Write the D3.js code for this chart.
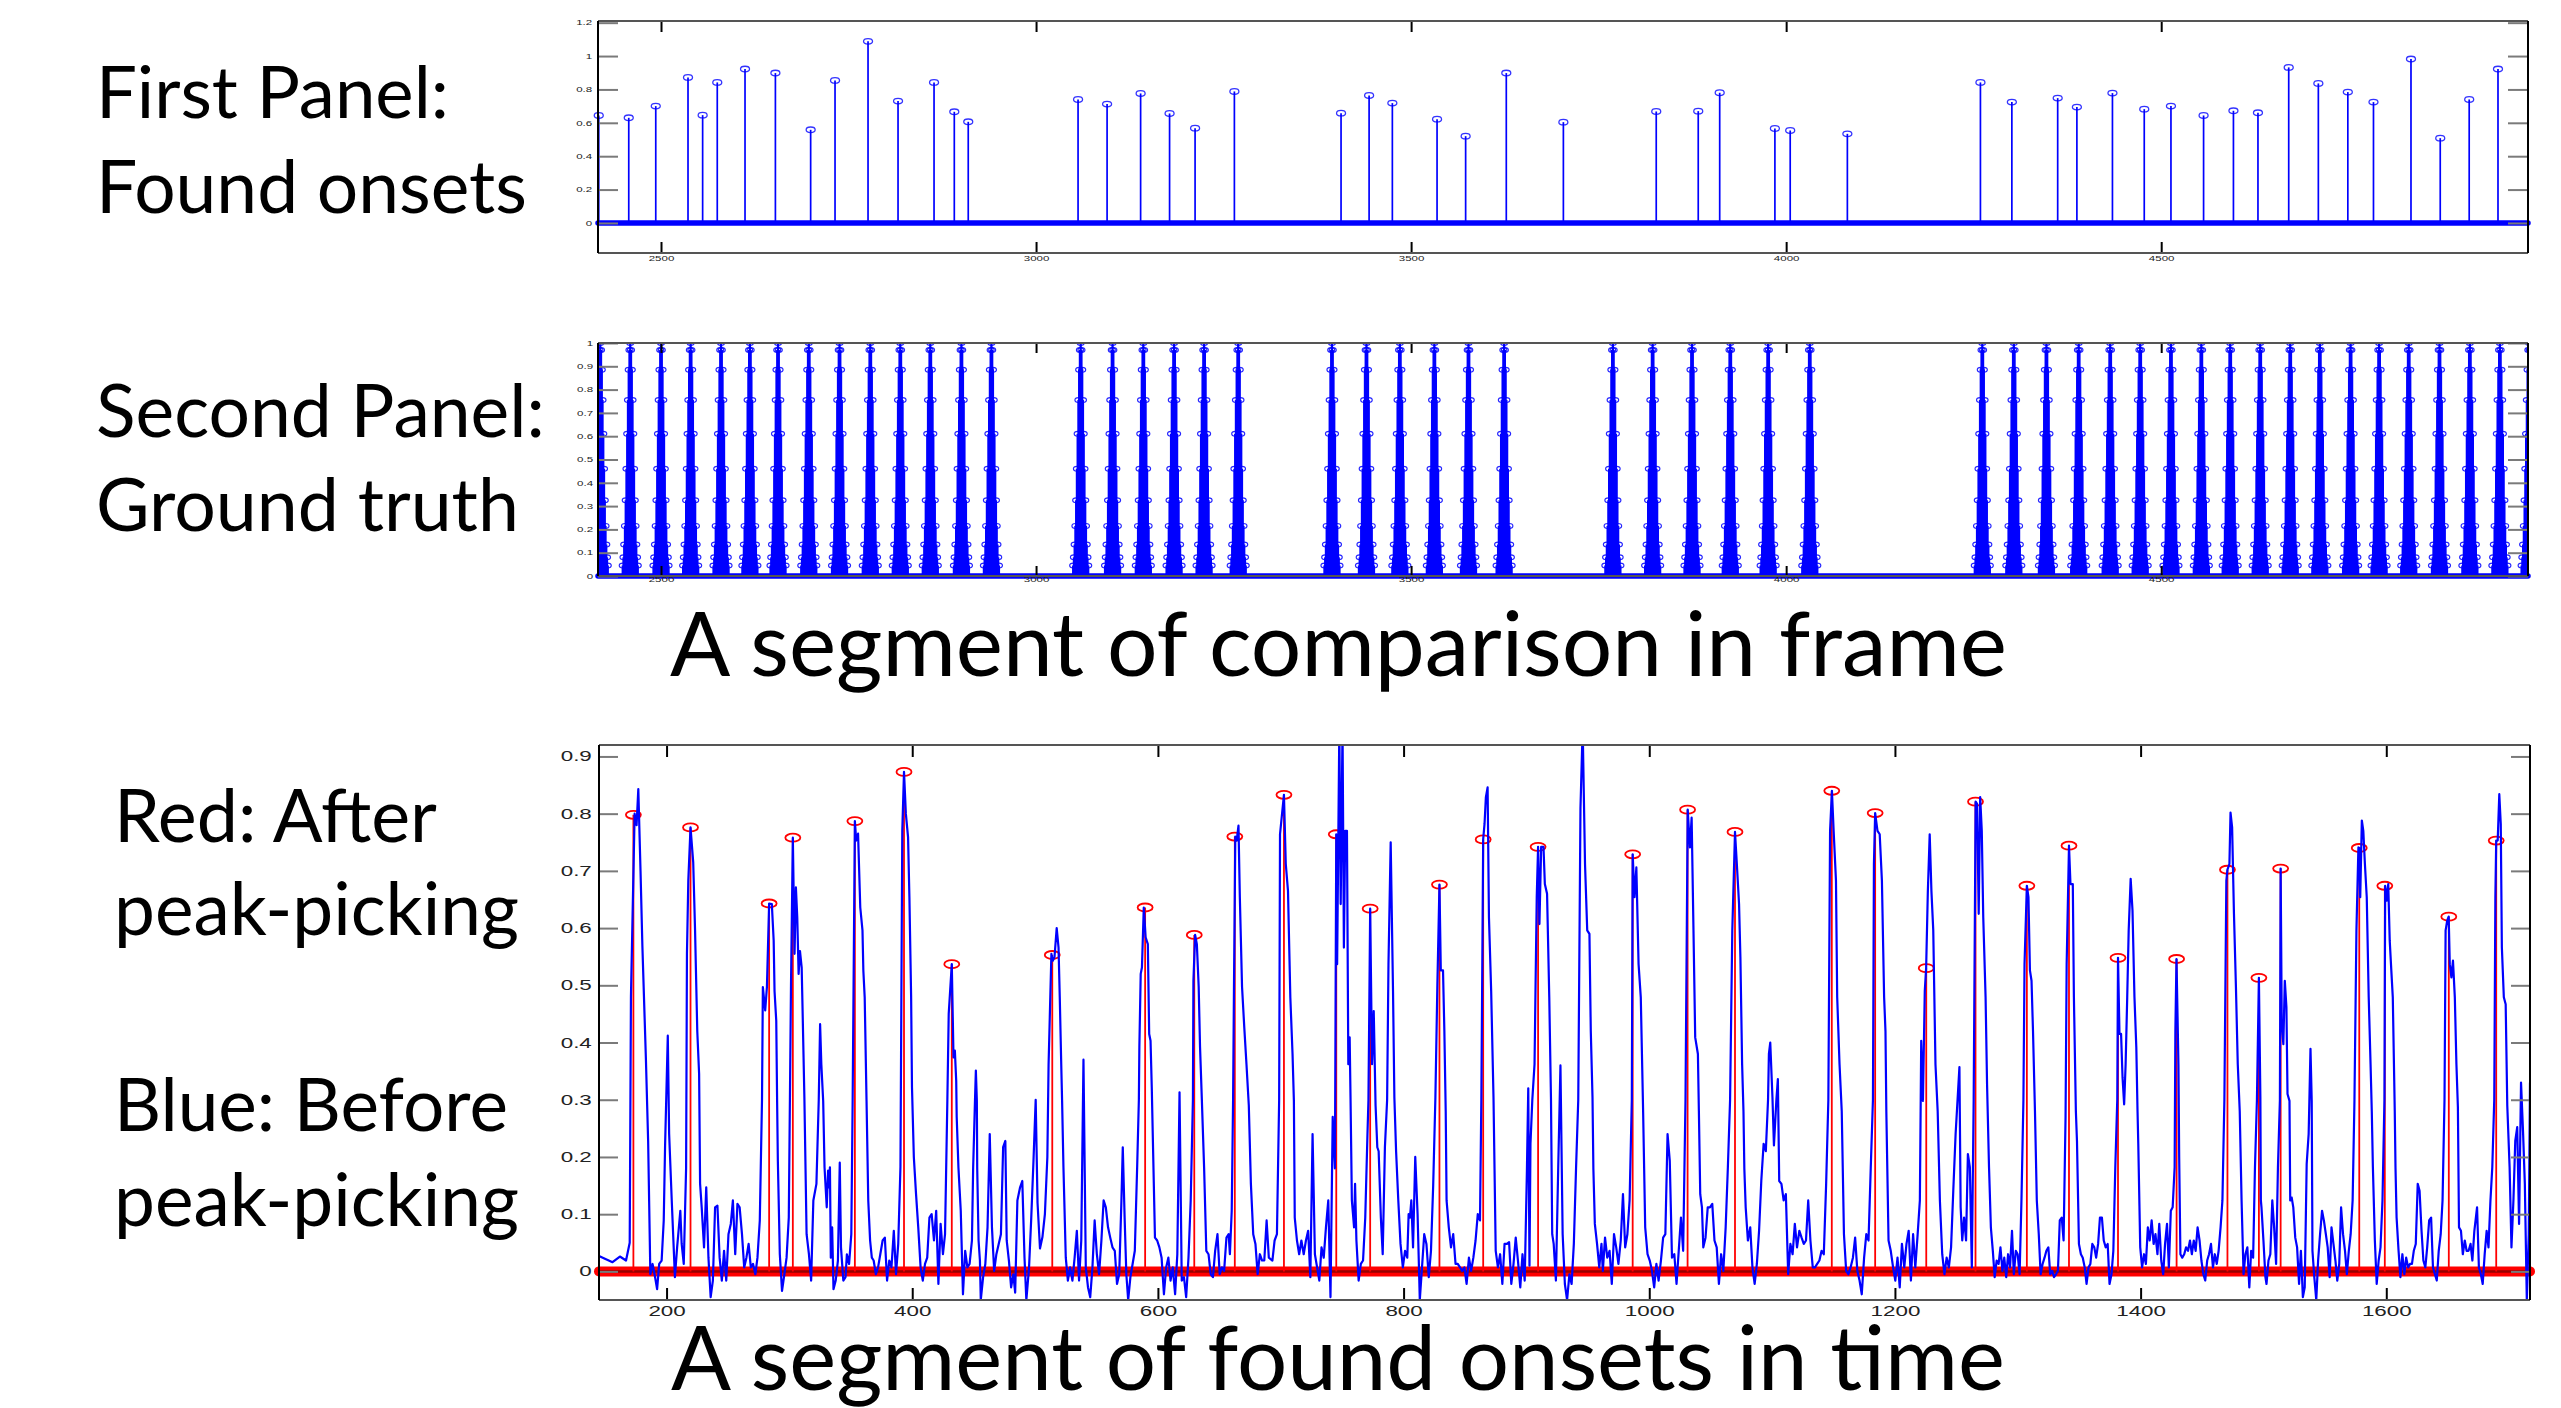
<!DOCTYPE html>
<html>
<head>
<meta charset="utf-8">
<script src="https://cdn.jsdelivr.net/npm/d3@7"></script>
<style>
  body { margin: 0; background: #fff; }
  svg { display: block; background: #fff; }
  .side { font-family: Lato, 'Open Sans', sans-serif; fill: #000; }
  .ax text { font-family: 'Liberation Sans', Arial, sans-serif; fill: #222; }
</style>
</head>
<body>
<svg id="chart" width="2561" height="1408"></svg>
<script>
/* eslint-disable */
// ---- data ----
// panel 1: found onsets (frame, strength)
const foundFrames = [2417, 2457, 2493, 2536, 2555.5, 2575, 2612, 2652.5, 2699.5, 2732, 2776, 2816, 2864, 2891, 2909.6,
  3056, 3094.7, 3139.4, 3178, 3212, 3264.4, 3406.6, 3444, 3475, 3534.6, 3572.7, 3626.9, 3703,
  3826.8, 3882.8, 3911.4, 3985, 4005.4, 4081.6,
  4259, 4300.9, 4362, 4387.6, 4435, 4477.4, 4513, 4556.5, 4596.3, 4629, 4670, 4709.5, 4748.8, 4783, 4833, 4872, 4910.6, 4949];
const foundValues = [0.644, 0.63, 0.70, 0.872, 0.646, 0.842, 0.922, 0.898, 0.558, 0.854, 1.088, 0.73, 0.842, 0.666, 0.606,
  0.74, 0.712, 0.776, 0.656, 0.568, 0.788, 0.658, 0.764, 0.718, 0.622, 0.52, 0.898, 0.604,
  0.668, 0.67, 0.78, 0.566, 0.554, 0.534,
  0.842, 0.724, 0.748, 0.694, 0.778, 0.682, 0.70, 0.644, 0.672, 0.66, 0.932, 0.836, 0.784, 0.724, 0.982, 0.508, 0.74, 0.922];

// panel 2: ground truth onset frames and the stem levels seen around each onset (offset 0..10)
const truthFrames = [2419, 2459, 2500, 2539.5, 2580, 2618.5, 2656, 2697, 2738, 2779, 2819, 2859, 2900.5, 2940.5,
  3059.5, 3102, 3143, 3184, 3224, 3269.5, 3394.5, 3440.5, 3485, 3531, 3576.5, 3624,
  3769, 3822, 3874.5, 3925.5, 3976, 4031.5,
  4261.5, 4303.5, 4347, 4390, 4432, 4472, 4513, 4553.5, 4592, 4632, 4672, 4711.5, 4752.5, 4790.5, 4830, 4871, 4911.5, 4951.5, 4990.5];
const truthLevels = [1, 0.97, 0.885, 0.755, 0.61, 0.46, 0.325, 0.215, 0.135, 0.08, 0.045];

// panel 3: peaks kept after peak-picking
const pickFrames = [173, 219.5, 283.5, 302.8, 353.3, 393.3, 432.2, 514, 589.6, 629.6, 662.6, 702.6, 745.2, 772.8, 829.2,
  864.8, 909.5, 986.5, 1031.2, 1069.8, 1148.6, 1183.9, 1225.5, 1265.6, 1307.4, 1341.7, 1381.6, 1429.3, 1470.7,
  1496.3, 1514, 1578, 1598.8, 1650.9, 1689.5];
const pickValues = [0.798, 0.776, 0.643, 0.758, 0.787, 0.873, 0.537, 0.553, 0.636, 0.588, 0.76, 0.833, 0.764, 0.634, 0.676,
  0.755, 0.742, 0.729, 0.807, 0.768, 0.84, 0.801, 0.53, 0.821, 0.674, 0.744, 0.548, 0.546, 0.702,
  0.513, 0.704, 0.74, 0.674, 0.62, 0.753];

// panel 3: detection function before peak-picking [frame, value]
const odfCurve = [
  [145,.027],[156,.016],[162,.026],[167,.019],[170,.05],[171,.48],[174,.80],[175.6,.78],[177,.843],[178.8,.70],[180.3,.57],[183.2,.37],
  [185,.228],[186.8,-.005],[188.6,.013],[190.5,-.008],[192.3,-.031],[194,.013],[196,.019],[197.7,.089],[198.8,.22],[201,.412],[202.1,.24],
  [204.3,.12],[206.8,-.01],[208.6,.042],[211.2,.106],[212.3,.048],[214,.013],[215.9,.18],[216.6,.555],[217.7,.683],[219.5,.776],[221.7,.715],
  [223.2,.596],[225,.42],[226.5,.345],[227.3,.153],[228.6,.112],[230.5,.042],[232.3,.147],[234.1,.024],[235.9,-.045],[237.7,-.016],[239.5,.112],
  [241.4,.115],[243.2,.024],[245,-.016],[246.8,.036],[248.6,-.016],[250.4,.065],[252.3,.083],[254,.124],[255.9,.03],[257.7,.118],[259.5,.112],
  [261.4,.065],[263.2,.007],[265,.024],[266.8,.048],[268.6,.007],[270.4,.013],[272.3,-.005],[274,.024],[275.9,.089],[277.7,.3],[278.4,.497],
  [280.3,.456],[281.7,.497],[283.5,.643],[285.7,.642],[287.2,.578],[287.9,.49],[289.3,.438],[290,.298],[290.6,.193],[292.2,.03],[294,-.034],
  [295.9,-.005],[297.7,.024],[299.5,.094],[301.3,.5],[302.8,.758],[304.2,.555],[305.3,.671],[306.4,.619],[307.5,.52],[308.6,.56],[310,.531],
  [310.8,.45],[312.2,.304],[314,.065],[315.9,.03],[317.7,-.016],[319.5,.124],[322,.153],[323.9,.3],[325,.432],[326,.362],[327.5,.298],
  [328.6,.182],[330.4,.112],[331.5,.176],[332.2,.147],[333,.182],[333.7,.024],[334.8,.077],[335.9,-.031],[337.7,-.016],[339.5,.019],[341,.19],
  [342,.042],[343.9,-.016],[345.7,-.01],[346.8,.03],[348.6,.013],[350.4,.065],[351.5,.3],[353.3,.787],[354.4,.753],[355.9,.765],[357.7,.636],
  [359.5,.596],[360.2,.526],[361.3,.479],[362.8,.298],[364.2,.124],[365.7,.054],[367.1,.024],[368.6,.019],[370.4,-.005],[372.2,.007],[374,.03],
  [375.9,.054],[377.7,.059],[379.5,-.016],[381.3,.019],[383.1,.007],[385,.071],[386.8,-.005],[388.6,.048],[390.4,.182],[391.9,.77],[393.3,.873],
  [394.8,.8],[396.6,.759],[397.7,.654],[399.1,.479],[399.8,.322],[401.3,.2],[403.1,.135],[404.9,.077],[406.8,.007],[408.6,-.016],[410.4,.013],
  [412.2,.024],[414,.094],[415.8,.1],[417.7,.054],[419.5,.106],[421.3,-.022],[423.1,.083],[425,.03],[426.7,.065],[428.6,.3],[429.7,.45],
  [432.2,.537],[433.6,.374],[434.7,.386],[435.8,.333],[436.2,.27],[437.6,.182],[439.5,.106],[441.3,-.04],[443.1,.036],[444.9,.007],[446.7,.013],
  [448.6,.054],[449.6,.182],[451.1,.3],[451.8,.351],[452.6,.298],[452.9,.18],[454,.054],[455.1,.019],[455.8,-.05],[457.7,-.01],[459.5,.013],
  [461.3,.077],[463.1,.24],[464.9,.077],[466.7,.001],[468.5,.03],[470.4,.048],[472.2,.065],[474,.217],[475.8,.228],[476.9,.054],[478.7,.019],
  [480.5,-.028],[482.3,-.005],[483.8,-.037],[485.6,.124],[487.8,.147],[489.6,.158],[491.4,.024],[492.9,-.05],[495.1,.007],[496.9,.094],
  [498.7,.193],[500.5,.30],[502,.12],[504,.04],[506,.06],[508,.1],[510,.2],[511,.362],[513.3,.555],[514.4,.543],[515.8,.549],[517.6,.6],
  [519.1,.566],[520.1,.479],[521.3,.362],[522,.298],[523.1,.182],[525,.024],[526.7,-.016],[528.5,.007],[530.4,-.016],[532.2,.024],[534,.071],
  [535.8,-.016],[537.6,.054],[539.4,.37],[541.3,.007],[543.1,-.028],[544.9,-.045],[546.7,.007],[548.5,.089],[550.3,.03],[552.1,-.005],[554,.054],
  [555.8,.124],[557.6,.112],[559.4,.077],[561.2,.059],[563,.042],[564.9,.036],[566.7,-.022],[568.5,-.005],[570.3,.124],[571.4,.217],[572.9,.094],
  [574.3,-.005],[575.8,-.05],[577.6,-.01],[579.4,.013],[581.2,.036],[583.1,.182],[584.5,.3],[584.9,.392],[586,.52],[587,.531],[588.5,.636],
  [590,.584],[591.8,.572],[592.9,.415],[594,.403],[595,.322],[595.8,.24],[597.6,.059],[599.4,.054],[601.2,.042],[603,.024],[604.9,-.04],
  [606.7,.007],[608.5,.024],[610.3,-.016],[612.1,.007],[614,-.04],[615.8,.03],[617.6,.313],[619.4,-.016],[621.2,-.01],[623,-.045],[624.9,.024],
  [626.7,.124],[628.5,.3],[628.9,.508],[630.3,.588],[631.7,.572],[633.2,.497],[634.3,.392],[635.8,.298],[637.6,.182],[639.4,.036],[641.2,.03],
  [643,-.005],[644.8,-.01],[646.6,.036],[648.5,.065],[650.3,-.005],[652.1,.007],[653.9,.001],[655.8,.059],[657.6,.065],[658.6,.03],[660.1,.106],
  [661.2,.3],[661.9,.49],[663,.76],[664.1,.753],[665.6,.779],[666.7,.654],[668.5,.497],[670.3,.427],[672.1,.362],[674,.29],[675.7,.153],
  [677.6,.065],[679.4,.048],[681.2,-.005],[683,.03],[684.8,.019],[686.6,.019],[688.5,.089],[690.3,.024],[693.2,.019],[695,.054],[696.9,.065],
  [698.7,.3],[699.4,.764],[702.6,.833],[704.1,.712],[705.9,.665],[707.8,.479],[709.6,.38],[710.7,.298],[711.4,.094],[713.2,.054],[715,.03],
  [716.8,.054],[718.7,.03],[720.5,.054],[722.3,.071],[724.1,-.01],[725.9,.24],[727.8,.03],[729.6,.007],[731.4,-.016],[733.2,.042],[735,.024],
  [736.8,.077],[738.7,.124],[740.5,-.045],[742.3,.27],[744.1,.18],[745.2,.764],[745.9,.537],[747.7,.95],[748.8,.642],[750.3,.95],[751.4,.566],
  [752.5,.77],[753.9,.77],[755,.362],[756.1,.409],[756.8,.304],[757.9,.124],[759.7,.077],[760.5,.153],[761.6,.054],[763.4,-.016],[765.2,.013],
  [767,.019],[768.8,.094],[770.6,.24],[771.4,.3],[772.8,.634],[774.3,.362],[775.7,.455],[777.2,.29],[778.6,.217],[779.7,.21],[781.5,.094],
  [783,.03],[784.8,.217],[786.6,.3],[787.7,.537],[789.5,.75],[791.4,.49],[792.5,.304],[793.9,.21],[795.7,.124],[797.5,.048],[799.4,.007],
  [801.2,.036],[803,.024],[804.1,.1],[805.2,.094],[806.3,.124],[807.7,.042],[809.5,.2],[811.4,.1],[813.2,-.05],[815,.007],[816.8,.065],
  [818.6,.048],[820.5,-.01],[822.3,.036],[824.1,.15],[825.9,.304],[827.5,.5],[829.2,.676],[830.3,.526],[832.1,.526],[833.2,.42],[834.3,.28],
  [835,.124],[836.8,.077],[838.6,.042],[840.4,.065],[842.3,.013],[844.1,.013],[845.9,.007],[847.7,.001],[849.5,.007],[851.3,-.022],[853.2,.024],
  [855,.001],[856.8,.024],[858.6,.054],[860.4,.1],[862.2,.089],[863.3,.3],[864.8,.755],[865.9,.782],[867,.829],[868.4,.846],[869.5,.619],
  [871.3,.49],[873.2,.304],[875,.036],[876.8,.007],[878.6,.03],[880.4,-.022],[882.2,.048],[884.1,.048],[885.9,.051],[887.7,-.022],[889.5,.013],
  [891.3,.059],[893.1,.019],[895,-.028],[896.8,.03],[898.6,-.016],[900.4,.176],[901.5,.32],[902.5,.01],[903.3,.223],[904.8,.3],[906.6,.362],
  [908.4,.654],[909.5,.742],[910.6,.607],[912,.742],[913.9,.742],[915,.677],[916.8,.66],[918.6,.479],[920,.3],[921,.065],[922.2,.048],
  [924,-.016],[925.9,.182],[927.7,.36],[929.5,.065],[931.3,-.022],[933.1,-.05],[935,-.005],[936.8,-.022],[938.6,.048],[940.4,.18],[942.2,.3],
  [944,.81],[945.8,.95],[947.7,.712],[949.5,.596],[951.3,.59],[952.4,.42],[953.8,.304],[954.5,.18],[955.7,.083],[957.5,.048],[959.3,.007],
  [961.1,.048],[962.2,.001],[964,.059],[965.8,.024],[967.7,.036],[969.5,-.022],[971.3,.065],[973.1,.042],[974.9,.013],[976.8,.054],[978.6,.135],
  [980.4,.042],[982.2,.065],[984,.124],[985.8,.3],[986.5,.729],[988,.654],[989.5,.706],[991.3,.537],[993.1,.479],[995,.28],[996.7,.077],
  [998.6,.03],[1000.4,.019],[1002.2,.001],[1004,-.028],[1005.8,.013],[1007.6,-.016],[1009.5,.019],[1011.3,.059],[1013.1,.065],[1014.9,.24],
  [1016.7,.193],[1018.5,.024],[1020.4,.03],[1022.2,-.022],[1024,.036],[1025.8,.094],[1027.6,.036],[1029.5,.3],[1031.3,.807],[1033.1,.741],
  [1034.5,.793],[1036,.596],[1037.4,.409],[1039.6,.38],[1040.4,.28],[1041.5,.135],[1042.9,.112],[1044,.042],[1045.8,.059],[1047.6,.112],
  [1049.4,.112],[1051.3,.118],[1053.1,.054],[1054.9,.042],[1056.7,-.022],[1058.5,.03],[1060.3,.001],[1062.2,.077],[1064,.182],[1065.8,.3],
  [1067.6,.596],[1069.8,.768],[1071.3,.712],[1073.1,.642],[1074.2,.549],[1075.6,.362],[1076.7,.28],[1077.4,.18],[1078.5,.112],[1080.3,.054],
  [1082.2,.077],[1084,.007],[1085.8,-.022],[1087.6,.013],[1089.4,.071],[1091.2,.158],[1093.1,.223],[1094.9,.21],[1096.7,.3],[1097.4,.38],
  [1098.5,.4],[1100.3,.304],[1101.5,.22],[1103.5,.3],[1104.7,.336],[1105.8,.158],[1107.6,.153],[1109.4,.124],[1111.2,.135],[1113.1,-.005],
  [1114.9,.048],[1116.7,.03],[1118.5,.083],[1120.3,.042],[1122.2,.071],[1124,.059],[1125.8,.048],[1127.6,.054],[1129.4,.124],[1131.2,.054],
  [1133.1,.007],[1134.9,.007],[1136.7,.013],[1138.5,.019],[1140.3,.036],[1142.1,.03],[1144,.153],[1145.8,.3],[1147.2,.77],[1148.7,.84],
  [1150.1,.77],[1152,.683],[1153,.479],[1154.9,.362],[1156.7,.28],[1158.5,.065],[1160.3,.001],[1162.1,-.005],[1163.9,.007],[1165.8,.024],
  [1167.6,.059],[1169.4,.001],[1171.2,-.016],[1173,-.04],[1174.9,.024],[1176.7,.065],[1178.5,.054],[1180.3,.18],[1182.1,.3],[1182.9,.712],
  [1183.9,.801],[1185.8,.77],[1187.6,.764],[1189.4,.683],[1191.2,.479],[1192.3,.42],[1193,.28],[1194.8,.054],[1196.6,.036],[1198.5,.007],
  [1200.3,-.016],[1202.1,.024],[1203.9,-.028],[1205.7,.048],[1207.6,.007],[1209.4,.048],[1211.2,.071],[1213,-.016],[1214.8,.065],[1216.6,.007],
  [1218.5,.065],[1220.3,.124],[1221.4,.403],[1222.8,.298],[1224.3,.49],[1225.4,.53],[1226.8,.665],[1228.3,.764],[1229.7,.665],[1231.2,.596],
  [1233,.362],[1234.8,.28],[1236.6,.124],[1238.5,.03],[1240.3,-.005],[1242.1,.024],[1243.9,.007],[1245.7,.042],[1247.5,.141],[1249.4,.24],
  [1252.5,.357],[1253.5,.112],[1254.8,.054],[1256.3,.094],[1257.9,.054],[1259.4,.205],[1261,.182],[1262.6,.007],[1264.1,.3],[1265.7,.821],
  [1266.9,.817],[1268.2,.625],[1269.4,.829],[1270.7,.77],[1271.9,.619],[1273.8,.479],[1275,.327],[1276.6,.182],[1278.1,.077],[1279.7,.036],
  [1281.2,-.01],[1282.8,.019],[1284.4,.013],[1285.9,.042],[1287.5,.001],[1289,.024],[1290.6,-.01],[1292.1,.03],[1293.7,.007],[1295.3,.071],
  [1296.8,-.005],[1298.4,.036],[1299.9,.03],[1301.5,-.005],[1303,.124],[1304.6,.3],[1305.5,.537],[1307.4,.674],[1308.7,.654],[1309.9,.526],
  [1311.2,.508],[1312.4,.42],[1314,.28],[1315.5,.124],[1317.1,.065],[1318.6,-.005],[1320.2,.013],[1321.8,.024],[1323.3,.036],[1324.9,.042],
  [1326.4,-.005],[1328,.001],[1329.5,-.01],[1331.1,-.005],[1332.7,.001],[1334.2,.089],[1335.8,.094],[1337.3,.054],[1338.9,.27],[1339.8,.537],
  [1341.7,.744],[1342.9,.677],[1344.8,.677],[1345.7,.479],[1347.3,.28],[1348.2,.228],[1349.8,.048],[1351.4,.03],[1352.9,.024],[1354.5,.007],
  [1356,-.022],[1357.6,.007],[1359.1,.013],[1360.7,.048],[1362.3,.042],[1363.8,.024],[1365.4,.048],[1366.9,.094],[1368.5,.094],[1370,.054],
  [1371.6,.042],[1373.2,.048],[1374.7,-.022],[1376.3,-.005],[1377.8,.036],[1379.4,.182],[1381,.3],[1381.6,.548],[1382.8,.415],[1384.1,.415],
  [1385.3,.339],[1386.6,.292],[1387.8,.362],[1389.1,.479],[1390.3,.596],[1391.9,.686],[1393.4,.631],[1395,.479],[1396.5,.392],[1397.5,.28],
  [1398.1,.223],[1399.7,.042],[1401.2,.007],[1402.8,.03],[1404.3,.013],[1405.9,.077],[1407.4,.054],[1409,.089],[1410.6,.048],[1412.1,.065],
  [1413.7,.03],[1415.2,.083],[1416.8,.019],[1418.4,-.005],[1419.9,.048],[1421.5,.083],[1423,.007],[1424.6,.106],[1426.1,.112],[1427.7,.182],
  [1428.3,.42],[1429.2,.546],[1430.8,.362],[1431.4,.2],[1432.4,.03],[1433.9,.024],[1435.5,.03],[1437,.042],[1438.6,.036],[1440.2,.054],
  [1441.7,.03],[1443.3,.054],[1444.8,.036],[1446.4,.077],[1448,.054],[1449.5,.019],[1451.1,-.005],[1452.6,-.016],[1454.2,.019],[1455.7,.03],
  [1457.3,.048],[1458.9,.007],[1460.4,.03],[1462,.013],[1463.5,.036],[1465.1,.077],[1466.6,.124],[1468.2,.3],[1469.8,.683],[1470.7,.702],
  [1472.3,.712],[1473.2,.802],[1474.5,.776],[1476,.625],[1477.6,.497],[1479.1,.362],[1480.7,.28],[1482.2,.124],[1483.8,-.005],[1485.3,.03],
  [1486.9,.042],[1488.5,-.028],[1490,.036],[1491.6,.024],[1493.1,.182],[1494.7,.3],[1496.3,.513],[1497.5,.304],[1497.9,.124],[1498.4,.112],
  [1500,.054],[1501.6,-.01],[1502.5,-.022],[1504.1,.019],[1505.6,.03],[1507.2,.124],[1508.7,.077],[1510.3,.013],[1511.8,.182],[1513.4,.3],
  [1514,.704],[1514.9,.432],[1516.2,.397],[1517.4,.508],[1518.7,.462],[1519.6,.31],[1521.2,.298],[1521.8,.124],[1523,.129],[1524.3,.112],
  [1525.9,.059],[1527.4,.042],[1529,-.022],[1530.5,.036],[1532.1,-.045],[1533.6,-.028],[1535.2,.188],[1536.8,.24],[1538.3,.389],[1539.3,.298],
  [1539.9,.036],[1541.4,-.01],[1543,-.05],[1544.5,.019],[1546.1,.065],[1547.7,.106],[1549.2,.089],[1550.8,.065],[1552.3,.042],[1553.9,-.01],
  [1555.4,.077],[1557,.048],[1558.6,.019],[1560.1,-.016],[1561.7,.013],[1563.2,.112],[1564.8,.065],[1566.4,.036],[1567.9,-.005],[1569.5,.036],
  [1571,.065],[1572.6,.124],[1574.1,.3],[1575.7,.596],[1577.3,.741],[1577.9,.74],[1578.8,.654],[1580.1,.788],[1581.3,.77],[1582.6,.712],
  [1584.1,.654],[1585.7,.479],[1587.2,.362],[1588.2,.28],[1589.1,.182],[1590.7,.054],[1592.2,-.022],[1593.8,.019],[1595.3,.042],[1596.9,.124],
  [1598.5,.3],[1599.1,.674],[1600.3,.648],[1601.6,.677],[1602.8,.578],[1604.1,.526],[1605.3,.479],[1606.9,.28],[1607.5,.182],[1608.4,.094],
  [1610,.036],[1611.5,-.01],[1613.1,.03],[1614.7,-.005],[1616.2,.024],[1617.8,.007],[1619.3,.013],[1620.9,.013],[1622.4,.036],[1624,.048],
  [1625.6,.153],[1627.1,.141],[1628.7,.071],[1630.2,.019],[1631.8,.007],[1633.3,.042],[1634.9,.089],[1636.5,.094],[1638,.007],[1639.6,-.005],
  [1641.1,-.016],[1642.7,.036],[1644.3,.065],[1645.8,.124],[1647.4,.3],[1648.3,.596],[1649.6,.613],[1650.8,.62],[1651.7,.537],[1653,.514],
  [1654.3,.543],[1655.8,.479],[1657.1,.362],[1658.3,.287],[1659.2,.077],[1660.8,.071],[1662.3,.03],[1663.9,.054],[1665.4,.036],[1667,.036],
  [1668.6,.048],[1670.1,.019],[1671.7,.071],[1673.9,.112],[1675.4,.007],[1677,-.005],[1678.5,-.022],[1680.1,.03],[1681.7,.071],[1683.2,.042],
  [1684.8,.124],[1686.3,.182],[1687.9,.3],[1688.8,.654],[1689.5,.753],[1690.7,.753],[1692,.834],[1693.2,.782],[1694.1,.566],[1695.7,.479],
  [1697.2,.467],[1698.5,.29],[1700.4,.182],[1701.9,.042],[1703.5,.124],[1705,.228],[1706.6,.252],[1708.1,.083],[1709.7,.33],[1711.3,.246],
  [1712.8,.153],[1714.4,-.05],[1716,.065],[1717,.33]
];

// ticks
const frameTicks = [2500, 3000, 3500, 4000, 4500];
const foundTicksY = [0, 0.2, 0.4, 0.6, 0.8, 1, 1.2];
const truthTicksY = [0, 0.1, 0.2, 0.3, 0.4, 0.5, 0.6, 0.7, 0.8, 0.9, 1];
const timeTicks = [200, 400, 600, 800, 1000, 1200, 1400, 1600];
const odfTicksY = [0, 0.1, 0.2, 0.3, 0.4, 0.5, 0.6, 0.7, 0.8, 0.9];

const sideLabels = ['First Panel:', 'Found onsets', 'Second Panel:', 'Ground truth', 'Red: After', 'peak-picking', 'Blue: Before', 'peak-picking'];
const titleLabels = ['A segment of comparison in frame', 'A segment of found onsets in time'];

// ---- drawing ----
const svg = d3.select('#chart');
const BLUE = '#0000ff';
const RED = '#ff0000';

// axes box + inward ticks on all four sides, matlab style
function drawAxes(x, y, o) {
  const [xl, xr] = x.range();
  const [yb, yt] = y.range();
  const fmt = (d) => String(d);
  const stretch = `scale(${o.sx},1)`;
  const ax = svg.append('g').attr('class', 'ax');

  const left = ax.append('g').attr('transform', `translate(${xl},0)`).attr('color', '#7a7a7a')
    .call(d3.axisLeft(y).tickValues(o.yTicks).tickSize(-o.yLen).tickPadding(o.yPad).tickFormat(fmt));
  const right = ax.append('g').attr('transform', `translate(${xr},0)`).attr('color', '#7a7a7a')
    .call(d3.axisRight(y).tickValues(o.yTicks).tickSize(-o.yLen).tickFormat(''));
  const top = ax.append('g').attr('transform', `translate(0,${yt})`).attr('color', '#000')
    .call(d3.axisTop(x).tickValues(o.xTicks).tickSize(-o.xLen).tickFormat(''));
  const bottom = ax.append('g').attr('transform', `translate(0,${yb})`).attr('color', '#000')
    .call(d3.axisBottom(x).tickValues(o.xTicks).tickSize(-o.xLen).tickPadding(o.xPad).tickFormat(fmt));
  [left, right, top, bottom].forEach((g) => {
    g.select('.domain').remove();
    g.selectAll('.tick line').attr('stroke-width', o.tickW);
  });
  [left, bottom].forEach((g) => {
    g.selectAll('.tick text').attr('font-size', o.fs).attr('transform', stretch);
  });

  // the box
  ax.append('line').attr('x1', xl).attr('x2', xr).attr('y1', yt).attr('y2', yt).attr('stroke', '#555').attr('stroke-width', 2);
  ax.append('line').attr('x1', xl).attr('x2', xr).attr('y1', yb).attr('y2', yb).attr('stroke', '#555').attr('stroke-width', 2);
  ax.append('line').attr('x1', xl).attr('x2', xl).attr('y1', yt).attr('y2', yb).attr('stroke', '#000').attr('stroke-width', 2);
  ax.append('line').attr('x1', xr).attr('x2', xr).attr('y1', yt).attr('y2', yb).attr('stroke', '#000').attr('stroke-width', 2);
}

function clipFor(id, x, y) {
  const [xl, xr] = x.range();
  const [yb, yt] = y.range();
  svg.append('clipPath').attr('id', id).append('rect')
    .attr('x', xl).attr('y', yt).attr('width', xr - xl).attr('height', yb - yt);
  return `url(#${id})`;
}

// ---------- panel 1 ----------
const x1 = d3.scaleLinear().domain([2416, 4989]).range([598, 2528]);
const y1 = d3.scaleLinear().domain([-0.18, 1.21]).range([253, 21]);
const found = foundFrames.map((f, i) => ({ f, v: foundValues[i] }));

svg.append('line').attr('x1', x1.range()[0]).attr('x2', x1.range()[1])
  .attr('y1', y1(0)).attr('y2', y1(0))
  .attr('stroke', BLUE).attr('stroke-width', 5.5).attr('stroke-linecap', 'round');
const p1 = svg.append('g');
p1.selectAll('line').data(found).join('line')
  .attr('x1', d => x1(d.f)).attr('x2', d => x1(d.f))
  .attr('y1', y1(0)).attr('y2', d => y1(d.v))
  .attr('stroke', BLUE).attr('stroke-width', 1.7);
p1.selectAll('ellipse').data(found).join('ellipse')
  .attr('cx', d => x1(d.f)).attr('cy', d => y1(d.v))
  .attr('rx', 4.5).attr('ry', 2.8)
  .attr('fill', 'none').attr('stroke', BLUE).attr('stroke-width', 1.3).attr('stroke-opacity', 0.8);

drawAxes(x1, y1, { xTicks: frameTicks, yTicks: foundTicksY, yLen: 20, xLen: 11, yPad: 3.5, xPad: 3, fs: 7, sx: 1.65, tickW: 2 });

// ---------- panel 2 ----------
const x2 = d3.scaleLinear().domain([2416, 4989]).range([598, 2528]);
const y2 = d3.scaleLinear().domain([0, 1]).range([576, 343]);
const truthStems = truthFrames.flatMap(f => d3.range(-10, 11).map(k => ({ f: f + k, v: truthLevels[Math.abs(k)] })));
const clip2 = clipFor('clip2', x2, y2);

svg.append('line').attr('x1', x2.range()[0]).attr('x2', x2.range()[1])
  .attr('y1', y2(0)).attr('y2', y2(0))
  .attr('stroke', BLUE).attr('stroke-width', 5.5).attr('stroke-linecap', 'round');
const p2 = svg.append('g').attr('clip-path', clip2);
p2.selectAll('line').data(truthStems).join('line')
  .attr('x1', d => x2(d.f)).attr('x2', d => x2(d.f))
  .attr('y1', y2(0)).attr('y2', d => y2(d.v))
  .attr('stroke', BLUE).attr('stroke-width', 2.3);
p2.selectAll('ellipse').data(truthStems).join('ellipse')
  .attr('cx', d => x2(d.f)).attr('cy', d => y2(d.v))
  .attr('rx', 3.5).attr('ry', 2.4)
  .attr('fill', 'none').attr('stroke', BLUE).attr('stroke-width', 1.2).attr('stroke-opacity', 0.85);

drawAxes(x2, y2, { xTicks: frameTicks, yTicks: truthTicksY, yLen: 20, xLen: 10, yPad: 3, xPad: 1, fs: 7, sx: 1.65, tickW: 2 });

// ---------- panel 3 ----------
const x3 = d3.scaleLinear().domain([145, 1717]).range([599, 2530]);
const y3 = d3.scaleLinear().domain([-0.05, 0.92]).range([1300, 745]);
const picks = pickFrames.map((f, i) => ({ f, v: pickValues[i] }));
const clip3 = clipFor('clip3', x3, y3);

// the zero-valued red markers merge into one thick band with the baseline through it
svg.append('line').attr('x1', x3.range()[0]).attr('x2', x3.range()[1])
  .attr('y1', y3(0)).attr('y2', y3(0))
  .attr('stroke', RED).attr('stroke-width', 10).attr('stroke-linecap', 'round');
svg.append('line').attr('x1', x3.range()[0]).attr('x2', x3.range()[1])
  .attr('y1', y3(0)).attr('y2', y3(0))
  .attr('stroke', '#9a0000').attr('stroke-width', 2.5);

const p3 = svg.append('g');
p3.selectAll('line').data(picks).join('line')
  .attr('x1', d => x3(d.f)).attr('x2', d => x3(d.f))
  .attr('y1', y3(0)).attr('y2', d => y3(d.v))
  .attr('stroke', RED).attr('stroke-width', 1.8);

const odfLine = d3.line().x(d => x3(d[0])).y(d => y3(d[1]));
svg.append('path').datum(odfCurve)
  .attr('clip-path', clip3)
  .attr('d', odfLine)
  .attr('fill', 'none').attr('stroke', BLUE).attr('stroke-width', 2.2).attr('stroke-linejoin', 'round');

p3.selectAll('ellipse').data(picks).join('ellipse')
  .attr('cx', d => x3(d.f)).attr('cy', d => y3(d.v))
  .attr('rx', 7.5).attr('ry', 4)
  .attr('fill', 'none').attr('stroke', RED).attr('stroke-width', 1.8);

drawAxes(x3, y3, { xTicks: timeTicks, yTicks: odfTicksY, yLen: 19, xLen: 12, yPad: 4.5, xPad: 6, fs: 14, sx: 1.6, tickW: 2 });

// ---------- slide texts ----------
// left edge, baseline and width of each label as laid out on the slide
const sideLayout = [[96, 118, 353], [96, 213, 431], [96, 437, 449], [96, 531, 423], [114, 842, 323], [114, 935, 405], [114, 1131, 394], [114, 1226, 405]];
const titleLayout = [[670, 676, 1337], [671, 1390, 1334]];

function fitText(txt, pos) {
  const t = svg.append('text').attr('class', 'side')
    .attr('x', pos[0]).attr('y', pos[1]).attr('font-size', 80).text(txt);
  const len = t.node().getComputedTextLength();
  t.attr('font-size', 80 * pos[2] / len);
}
sideLabels.forEach((s, i) => fitText(s, sideLayout[i]));
titleLabels.forEach((s, i) => fitText(s, titleLayout[i]));
</script>
</body>
</html>
